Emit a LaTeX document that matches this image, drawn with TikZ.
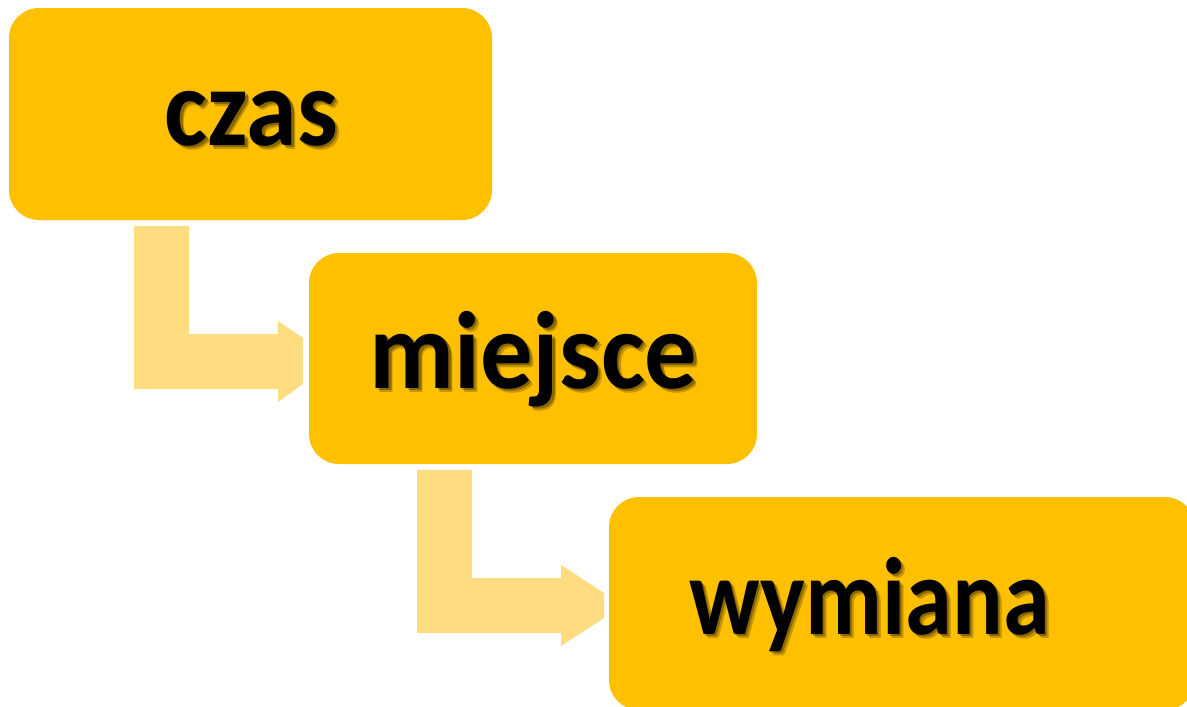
\documentclass[tikz,border=0pt]{standalone}
\usepackage{fontspec}
\setmainfont{Carlito}
\definecolor{boxfill}{HTML}{FFC000}
\definecolor{arrowfill}{HTML}{FFDC7F}
\newcommand{\narrowtxt}[2]{\scalebox{#1}[1]{#2}}
\begin{document}
\begin{tikzpicture}[x=1pt,y=1pt,
  box/.style={fill=boxfill, draw=none, rounded corners=30pt, inner sep=0pt},
  lbl/.style={anchor=base, inner sep=0pt, font=\fontsize{110}{120}\selectfont\bfseries},
  bentarrow/.style={fill=arrowfill, draw=none}]
\useasboundingbox (0,0) rectangle (1187,-707);
\begin{scope}
\clip (0,0) rectangle (1187,-707);
% boxes
\node[box, minimum width=483pt, minimum height=212pt] (czas) at (250.5,-114) {};
\node[box, minimum width=448pt, minimum height=211pt] (miejsce) at (533,-358.5) {};
\node[box, minimum width=586pt, minimum height=213pt] (wymiana) at (902,-603.5) {};
% bent arrows
\fill[bentarrow] (134,-226) -- (189,-226) -- (189,-334) -- (278,-334) -- (278,-321)
  -- (303,-338) -- (303,-384) -- (278,-402) -- (278,-389) -- (134,-389) -- cycle;
\fill[bentarrow] (417,-470) -- (472,-470) -- (472,-578) -- (561,-578) -- (561,-565)
  -- (604,-593) -- (604,-618) -- (561,-646) -- (561,-633) -- (417,-633) -- cycle;
% text with shadows
\foreach \n/\x/\y/\s/\t in {t1/251.5/-145/0.93/czas, t2/533.5/-388/0.95/miejsce, t3/869.5/-634/0.86/wymiana}{
  \node[lbl, text=black, opacity=0.22] at (\x+4,\y-4) {\narrowtxt{\s}{\t}};
  \node[lbl, text=black, opacity=0.3] at (\x+2.5,\y-2.5) {\narrowtxt{\s}{\t}};
  \node[lbl, text=black] (\n) at (\x,\y) {\narrowtxt{\s}{\t}};
}
\end{scope}
\end{tikzpicture}
\end{document}
